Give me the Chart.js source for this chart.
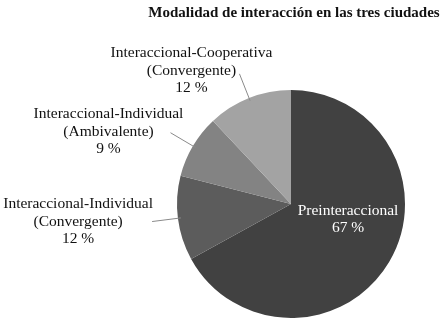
<!DOCTYPE html>
<html>
<head>
<meta charset="utf-8">
<script src="https://cdn.jsdelivr.net/npm/chart.js@4/dist/chart.umd.min.js"></script>
<style>
  html, body { margin: 0; padding: 0; background: #fff; }
  #wrap { position: relative; width: 448px; height: 324px; }
</style>
</head>
<body>
<div id="wrap"><canvas id="chart" width="448" height="324"></canvas></div>
<script>
  "use strict";
  var title = 'Modalidad de interacción en las tres ciudades';
  var categories = [
    ['Preinteraccional'],
    ['Interaccional-Individual', '(Convergente)'],
    ['Interaccional-Individual', '(Ambivalente)'],
    ['Interaccional-Cooperativa', '(Convergente)']
  ];
  var values = [67, 12, 9, 12];
  var colors = ['#414141', '#5c5c5c', '#838383', '#a3a3a3'];

  var serif = '"Liberation Serif", "Times New Roman", serif';

  // where each outside label sits relative to the end of its leader line
  var labelOffsets = [null, { dx: -74, dy: 0 }, { dx: -62, dy: -1 }, { dx: -48, dy: -3 }];

  var labelPlugin = {
    id: 'pieLabels',
    afterDraw: function (chart) {
      var ctx = chart.ctx;
      var meta = chart.getDatasetMeta(0);
      ctx.save();
      ctx.textAlign = 'center';
      ctx.textBaseline = 'middle';

      ctx.font = 'bold 15px ' + serif;
      ctx.fillStyle = '#111';
      ctx.fillText(title, 294, 13);

      ctx.font = '15.5px ' + serif;
      meta.data.forEach(function (arc, i) {
        var p = arc.getProps(['x', 'y', 'startAngle', 'endAngle', 'outerRadius'], true);
        var mid = (p.startAngle + p.endAngle) / 2;
        var lines = categories[i].concat([values[i] + ' %']);
        if (i === 0) {
          var tx = p.x + Math.cos(mid) * p.outerRadius * 0.52;
          var ty = p.y + Math.sin(mid) * p.outerRadius * 0.52;
          ctx.fillStyle = '#fff';
          lines.forEach(function (s, k) {
            ctx.fillText(s, tx + 6, ty - 23 + k * 17);
          });
          return;
        }
        var x0 = p.x + Math.cos(mid) * (p.outerRadius - 3);
        var y0 = p.y + Math.sin(mid) * (p.outerRadius - 3);
        var x1 = p.x + Math.cos(mid) * (p.outerRadius + 26);
        var y1 = p.y + Math.sin(mid) * (p.outerRadius + 26);
        ctx.strokeStyle = '#8a8a8a';
        ctx.lineWidth = 1;
        ctx.beginPath();
        ctx.moveTo(x0, y0);
        ctx.lineTo(x1, y1);
        ctx.stroke();

        var off = labelOffsets[i];
        var cx = x1 + off.dx;
        var cy = y1 + off.dy;
        ctx.fillStyle = '#111';
        lines.forEach(function (s, k) {
          ctx.fillText(s, cx, cy + (k - 1) * 17.5);
        });
      });
      ctx.restore();
    }
  };

  new Chart(document.getElementById('chart').getContext('2d'), {
    type: 'pie',
    data: {
      labels: categories.map(function (c) { return c.join(' '); }),
      datasets: [{
        data: values,
        backgroundColor: colors,
        borderWidth: 0
      }]
    },
    options: {
      responsive: false,
      animation: false,
      layout: { padding: { top: 90, bottom: 6, left: 177, right: 43 } },
      plugins: {
        legend: { display: false },
        tooltip: { enabled: false },
        title: { display: false }
      }
    },
    plugins: [labelPlugin]
  });
</script>
</body>
</html>
